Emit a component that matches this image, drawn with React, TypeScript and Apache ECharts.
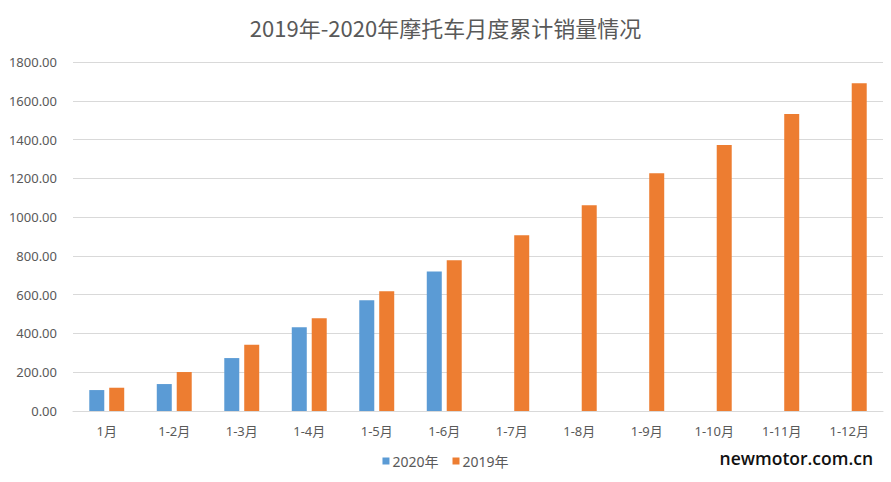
import React, { useEffect, useRef } from "react";
import * as echarts from "echarts";

const categories = ["1月", "1-2月", "1-3月", "1-4月", "1-5月", "1-6月", "1-7月", "1-8月", "1-9月", "1-10月", "1-11月", "1-12月"];
const sales2020 = [108, 139, 273, 432, 571, 720, null, null, null, null, null, null];
const sales2019 = [120, 201, 342, 478, 617, 777, 906, 1061, 1226, 1372, 1532, 1690];
const yTicks = { min: 0, max: 1800, interval: 200 };

export default function App() {
  const ref = useRef<HTMLDivElement>(null);
  useEffect(() => {
    document.body.style.margin = "0";
    if (!ref.current) return;
    const chart = echarts.init(ref.current, undefined, { renderer: "svg" });
    const font = "'Noto Sans', 'Noto Sans CJK SC', sans-serif";
    chart.setOption({
      animation: false,
      backgroundColor: "#ffffff",
      textStyle: { fontFamily: font },
      title: {
        text: "2019年-2020年摩托车月度累计销量情况",
        left: "center",
        top: 11,
        textStyle: { fontFamily: "'Noto Sans CJK SC', sans-serif", fontSize: 22, fontWeight: "normal", color: "#595959" },
      },
      legend: {
        bottom: 9,
        left: "center",
        itemWidth: 7,
        itemHeight: 7,
        itemGap: 14,
        icon: "rect",
        textStyle: { fontFamily: font, fontSize: 14, color: "#595959", padding: [0, 0, 0, -2] },
        data: ["2020年", "2019年"],
      },
      grid: { left: 73, right: 8, top: 62, bottom: 71, containLabel: false },
      xAxis: {
        type: "category",
        data: categories,
        axisLine: { show: true, lineStyle: { color: "#D9D9D9" } },
        axisTick: { show: false },
        axisLabel: { color: "#595959", fontSize: 13, margin: 13, fontFamily: font },
      },
      yAxis: {
        type: "value",
        min: yTicks.min,
        max: yTicks.max,
        interval: yTicks.interval,
        axisLine: { show: false },
        axisTick: { show: false },
        splitLine: { lineStyle: { color: "#D9D9D9" } },
        axisLabel: {
          color: "#595959",
          fontSize: 13,
          margin: 16,
          fontFamily: font,
          formatter: (v: number) => v.toFixed(2),
        },
      },
      series: [
        {
          name: "2020年",
          type: "bar",
          data: sales2020,
          barWidth: 15,
          barGap: "33%",
          itemStyle: { color: "#5B9BD5" },
        },
        {
          name: "2019年",
          type: "bar",
          data: sales2019,
          barWidth: 15,
          barGap: "33%",
          itemStyle: { color: "#ED7D31" },
        },
      ],
      graphic: [
        {
          type: "text",
          right: 18,
          top: 449,
          style: {
            text: "newmotor.com.cn",
            fill: "#111111",
            fontSize: 17.5,
            fontWeight: 600,
            fontFamily: "'Open Sans', 'Noto Sans', sans-serif",
          },
        },
      ],
    });
    return () => chart.dispose();
  }, []);
  return <div ref={ref} style={{ width: 891, height: 482 }} />;
}
